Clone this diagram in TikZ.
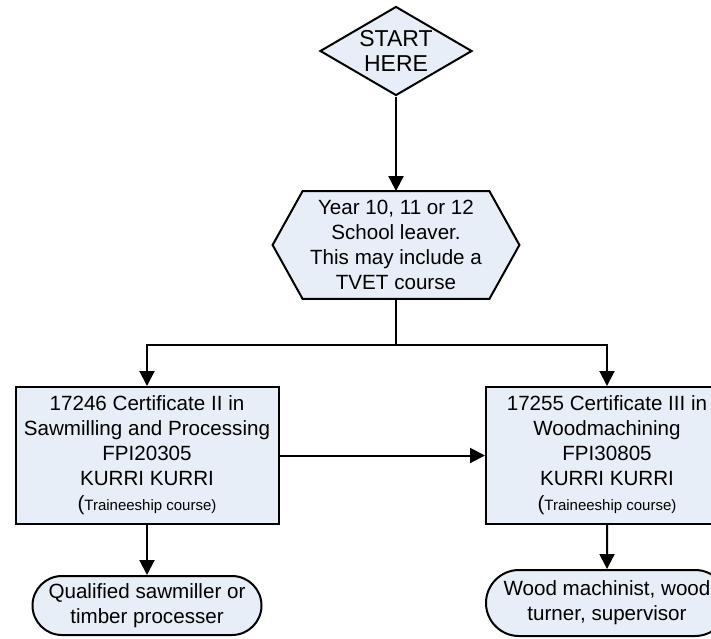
\documentclass[tikz,border=0pt]{standalone}
\usepackage{fontspec}
\setmainfont{Liberation Sans}
\usepackage{tikz}
\usetikzlibrary{shapes.geometric, shapes.misc, arrows.meta, backgrounds}
\usepackage{xcolor}
\definecolor{boxfill}{RGB}{232,238,247}
\newcommand{\traineefont}{\fontsize{7.5}{9}\selectfont}

\begin{document}
\begin{tikzpicture}[
    x=0.5pt, y=-0.5pt,
    every node/.style={font=\fontsize{10.3}{12.5}\selectfont, align=center},
    box/.style={draw, line width=1pt, fill=boxfill, minimum height=68.5pt, inner sep=0pt},
    decision/.style={diamond, draw, line width=1pt, fill=boxfill, minimum width=76pt, minimum height=44.5pt, aspect=1.7, inner sep=0pt, font=\fontsize{11.5}{12.5}\selectfont},
    hexbox/.style={minimum width=93pt, minimum height=53.5pt, inner sep=0pt},
    hexline/.style={draw, line width=1pt, fill=boxfill},
    terminal/.style={rounded rectangle, draw, line width=1pt, fill=boxfill, inner sep=0pt},
    arrow/.style={-{Triangle[length=7.5pt, width=7.5pt]}, line width=1pt},
]
    \useasboundingbox (0,0) rectangle (711,638);

    \node[decision] (start) at (396,51) {START\\HERE};
    \node[hexbox] (leaver) at (396,245) {Year 10, 11 or 12\\School leaver.\\This may include a\\TVET course};
    \begin{scope}[on background layer]
        \path[hexline] (leaver.north west) -- (leaver.north east) -- ([xshift=15pt]leaver.east)
            -- (leaver.south east) -- (leaver.south west) -- ([xshift=-15pt]leaver.west) -- cycle;
    \end{scope}

    \node[box, minimum width=131.5pt] (cert2) at (147,455.5) {17246 Certificate II in\\Sawmilling and Processing\\FPI20305\\KURRI KURRI\\({\traineefont Traineeship course)}};
    \node[box, minimum width=121pt] (cert3) at (607,455.5) {17255 Certificate III in\\Woodmachining\\FPI30805\\KURRI KURRI\\({\traineefont Traineeship course)}};

    \node[terminal, minimum width=114.5pt, minimum height=29.5pt] (job2) at (147,605.5) {Qualified sawmiller or\\timber processer};
    \node[terminal, minimum width=121pt, minimum height=33pt] (job3) at (607,603) {Wood machinist, wood\\turner, supervisor};

    \coordinate (split) at (396,345);

    \draw[arrow] (start) -- (leaver);
    \draw[line width=1pt] (leaver) -- (split);
    \draw[arrow] (split) -| (cert2);
    \draw[arrow] (split) -| (cert3);
    \draw[arrow] (cert2) -- (cert3);
    \draw[arrow] (cert2) -- (job2);
    \draw[arrow] (cert3) -- (job3);
\end{tikzpicture}
\end{document}
